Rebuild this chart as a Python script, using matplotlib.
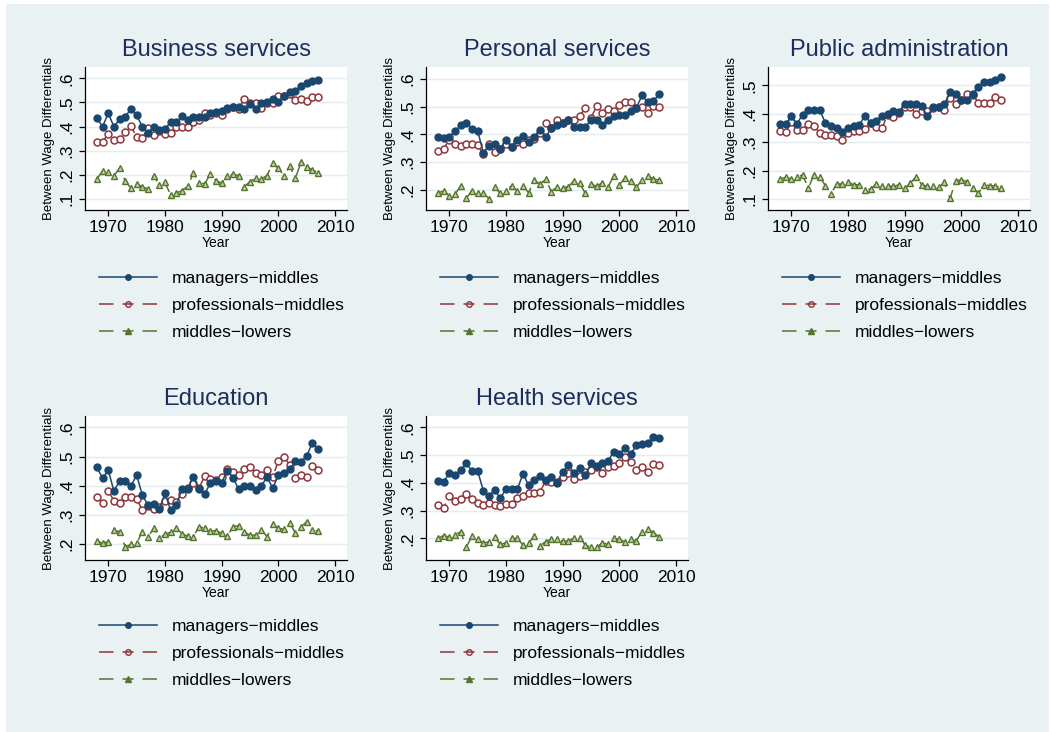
import matplotlib
matplotlib.use("Agg")
import matplotlib.pyplot as plt
from matplotlib.patches import Rectangle
from matplotlib.lines import Line2D

plt.rcParams["font.family"] = ["Liberation Sans", "DejaVu Sans"]

YEARS = list(range(1968, 2008))

# Business services
bus_mgr = [0.434, 0.400, 0.455, 0.400, 0.430, 0.441, 0.473, 0.447, 0.400, 0.375,
           0.397, 0.386, 0.390, 0.418, 0.418, 0.444, 0.427, 0.438, 0.438, 0.441,
           0.455, 0.459, 0.465, 0.478, 0.483, 0.480, 0.473, 0.494, 0.473, 0.499,
           0.503, 0.514, 0.503, 0.528, 0.545, 0.548, 0.570, 0.579, 0.590, 0.593]
bus_prof = [0.336, 0.338, 0.369, 0.344, 0.350, 0.376, 0.402, 0.357, 0.354, 0.393,
            0.365, 0.382, 0.369, 0.375, 0.400, 0.397, 0.400, 0.418, 0.427, 0.455,
            0.448, 0.455, 0.447, 0.473, 0.483, 0.473, 0.514, 0.499, 0.499, 0.478,
            0.499, 0.499, 0.527, 0.528, 0.534, 0.510, 0.513, 0.507, 0.524, 0.521]
bus_low = [0.183, 0.216, 0.212, 0.197, 0.227, 0.175, 0.144, 0.162, 0.151, 0.141,
           0.197, 0.158, 0.169, 0.116, 0.126, 0.133, 0.154, 0.206, 0.168, 0.162,
           0.204, 0.176, 0.165, 0.195, 0.202, 0.197, 0.151, 0.172, 0.186, 0.182,
           0.197, 0.248, 0.227, 0.197, 0.237, 0.186, 0.252, 0.234, 0.220, 0.209]

# Personal services
per_mgr = [0.391, 0.387, 0.391, 0.411, 0.433, 0.439, 0.420, 0.413, 0.334, 0.358,
           0.365, 0.349, 0.379, 0.353, 0.381, 0.393, 0.373, 0.389, 0.417, 0.391,
           0.421, 0.433, 0.439, 0.453, 0.427, 0.427, 0.427, 0.451, 0.453, 0.435,
           0.453, 0.465, 0.469, 0.469, 0.483, 0.496, 0.540, 0.516, 0.520, 0.544]
per_prof = [0.341, 0.349, 0.379, 0.367, 0.359, 0.365, 0.367, 0.361, 0.329, 0.364,
            0.337, 0.346, 0.367, 0.355, 0.371, 0.365, 0.379, 0.383, 0.403, 0.441,
            0.421, 0.453, 0.439, 0.451, 0.451, 0.465, 0.496, 0.460, 0.501, 0.477,
            0.491, 0.484, 0.506, 0.516, 0.516, 0.493, 0.499, 0.475, 0.503, 0.497]
per_low = [0.190, 0.196, 0.179, 0.184, 0.214, 0.170, 0.198, 0.190, 0.190, 0.168,
           0.210, 0.188, 0.196, 0.216, 0.196, 0.214, 0.190, 0.236, 0.221, 0.239,
           0.194, 0.212, 0.208, 0.212, 0.233, 0.224, 0.188, 0.220, 0.214, 0.226,
           0.210, 0.251, 0.218, 0.244, 0.233, 0.210, 0.236, 0.251, 0.239, 0.236]

# Public administration
pub_mgr = [0.364, 0.364, 0.391, 0.365, 0.397, 0.413, 0.413, 0.415, 0.368, 0.358,
           0.350, 0.335, 0.350, 0.356, 0.360, 0.394, 0.368, 0.376, 0.391, 0.401,
           0.409, 0.408, 0.433, 0.436, 0.433, 0.429, 0.391, 0.424, 0.424, 0.433,
           0.476, 0.471, 0.450, 0.450, 0.471, 0.495, 0.512, 0.512, 0.518, 0.529]
pub_prof = [0.338, 0.336, 0.370, 0.342, 0.344, 0.365, 0.358, 0.332, 0.327, 0.327,
            0.323, 0.306, 0.332, 0.338, 0.338, 0.347, 0.368, 0.354, 0.350, 0.397,
            0.389, 0.403, 0.423, 0.423, 0.401, 0.409, 0.409, 0.421, 0.424, 0.415,
            0.456, 0.433, 0.448, 0.471, 0.468, 0.439, 0.439, 0.439, 0.459, 0.450]
pub_low = [0.170, 0.176, 0.170, 0.176, 0.185, 0.138, 0.185, 0.179, 0.147, 0.118,
           0.153, 0.153, 0.159, 0.150, 0.150, 0.132, 0.135, 0.153, 0.146, 0.146,
           0.144, 0.150, 0.138, 0.155, 0.179, 0.150, 0.144, 0.144, 0.141, 0.158,
           0.102, 0.164, 0.167, 0.161, 0.138, 0.120, 0.150, 0.147, 0.146, 0.138]

# Education
edu_mgr = [0.463, 0.426, 0.454, 0.382, 0.417, 0.418, 0.399, 0.437, 0.369, 0.334,
           0.338, 0.320, 0.374, 0.317, 0.334, 0.389, 0.389, 0.431, 0.388, 0.372,
           0.409, 0.418, 0.411, 0.452, 0.428, 0.388, 0.399, 0.399, 0.386, 0.399,
           0.431, 0.391, 0.437, 0.445, 0.456, 0.485, 0.483, 0.502, 0.548, 0.525]
edu_prof = [0.363, 0.340, 0.382, 0.349, 0.340, 0.363, 0.361, 0.356, 0.317, 0.332,
            0.321, 0.329, 0.349, 0.352, 0.346, 0.372, 0.391, 0.411, 0.391, 0.434,
            0.422, 0.420, 0.431, 0.456, 0.448, 0.437, 0.458, 0.463, 0.445, 0.437,
            0.454, 0.431, 0.485, 0.500, 0.471, 0.426, 0.437, 0.431, 0.468, 0.454]
edu_low = [0.211, 0.203, 0.209, 0.247, 0.243, 0.190, 0.200, 0.203, 0.243, 0.224,
           0.255, 0.221, 0.234, 0.241, 0.257, 0.235, 0.228, 0.226, 0.260, 0.255,
           0.246, 0.246, 0.238, 0.228, 0.260, 0.264, 0.243, 0.230, 0.232, 0.249,
           0.226, 0.268, 0.255, 0.251, 0.272, 0.238, 0.260, 0.277, 0.247, 0.246]

# Health services
hea_mgr = [0.407, 0.404, 0.434, 0.428, 0.446, 0.470, 0.444, 0.444, 0.372, 0.354,
           0.374, 0.344, 0.378, 0.378, 0.377, 0.432, 0.392, 0.410, 0.425, 0.410,
           0.422, 0.401, 0.440, 0.464, 0.437, 0.452, 0.428, 0.470, 0.461, 0.473,
           0.479, 0.512, 0.503, 0.527, 0.504, 0.535, 0.540, 0.542, 0.566, 0.560]
hea_prof = [0.320, 0.308, 0.353, 0.336, 0.342, 0.359, 0.341, 0.326, 0.320, 0.329,
            0.320, 0.317, 0.324, 0.324, 0.344, 0.353, 0.362, 0.362, 0.367, 0.408,
            0.404, 0.404, 0.420, 0.434, 0.414, 0.425, 0.440, 0.446, 0.456, 0.434,
            0.456, 0.461, 0.473, 0.492, 0.476, 0.446, 0.456, 0.438, 0.467, 0.464]
hea_low = [0.200, 0.210, 0.204, 0.212, 0.224, 0.168, 0.208, 0.196, 0.182, 0.188,
           0.204, 0.178, 0.184, 0.200, 0.200, 0.176, 0.182, 0.210, 0.174, 0.188,
           0.198, 0.196, 0.190, 0.190, 0.202, 0.202, 0.176, 0.168, 0.168, 0.184,
           0.178, 0.200, 0.196, 0.188, 0.198, 0.192, 0.224, 0.234, 0.220, 0.206]

SERIES = ["managers\u2212middles", "professionals\u2212middles", "middles\u2212lowers"]
XTICKS = [1970, 1980, 1990, 2000, 2010]

W, H = 1051, 732
NAVY, MAROON, GREEN = "#1a476f", "#90353b", "#55752f"
BG = "#e9f1f3"
TITLE_C = "#1e2d5c"
DASH = (0, (7.8, 5.9))
KEY_DASH = (0, (9.5, 5.9, 7.2, 5.9, 9.8, 40))

# panel: title, data, y ticks, y limits, plot box in pixels (x, y-top, w, h), legend anchor
PANELS = [
    ("Business services", (bus_mgr, bus_prof, bus_low), [.1, .2, .3, .4, .5, .6],
     (0.054, 0.647), (85, 67, 262, 143), (99, 271)),
    ("Personal services", (per_mgr, per_prof, per_low), [.2, .3, .4, .5, .6],
     (0.128, 0.642), (426, 67, 262, 143), (440, 271)),
    ("Public administration", (pub_mgr, pub_prof, pub_low), [.1, .2, .3, .4, .5],
     (0.061, 0.565), (768, 67, 262, 143), (782, 271)),
    ("Education", (edu_mgr, edu_prof, edu_low), [.2, .3, .4, .5, .6],
     (0.146, 0.639), (85, 416, 262, 144), (99, 619)),
    ("Health services", (hea_mgr, hea_prof, hea_low), [.2, .3, .4, .5, .6],
     (0.122, 0.641), (426, 416, 262, 144), (440, 619)),
]

fig = plt.figure(figsize=(W / 100, H / 100), dpi=100)
fig.patch.set_facecolor("white")
fig.add_artist(Rectangle((6 / W, 0), 1043 / W, 1 - 4 / H, transform=fig.transFigure,
                         facecolor=BG, edgecolor="none", zorder=0))

# legend keys: solid / dashed line with a small marker in the middle
keys = [
    Line2D([], [], color=NAVY, lw=1.1, marker="o", ms=4, mfc=NAVY, mec=NAVY),
    Line2D([], [], color=MAROON, lw=1.1, ls=KEY_DASH, marker="o", ms=4,
           mfc="none", mec=MAROON, mew=1.0),
    Line2D([], [], color=GREEN, lw=1.1, ls=KEY_DASH, marker="^", ms=4,
           mfc=GREEN, mec=GREEN),
]

for title, (mgr, prof, low), yt, ylim, (px, py, pw, ph), (lx, ly) in PANELS:
    ax = fig.add_axes([px / W, 1 - (py + ph) / H, pw / W, ph / H])
    ax.set_facecolor("white")
    ax.plot(YEARS, mgr, color=NAVY, lw=1.1, marker="o", ms=5, mec=NAVY, mfc=NAVY,
            zorder=4)
    ax.plot(YEARS, prof, color=MAROON, lw=1.1, ls=DASH, marker="o", ms=5,
            mec=MAROON, mfc="white", mew=1.1, zorder=3)
    ax.plot(YEARS, low, color=GREEN, lw=1.1, ls=DASH, marker="^", ms=5,
            mec=GREEN, mfc="#bfd1a4", mew=1.0, zorder=3)

    ax.set_xlim(1965.9, 2012.1)
    ax.set_ylim(*ylim)
    ax.set_xticks(XTICKS)
    ax.set_yticks(yt)
    ax.set_yticklabels([("%.1f" % v)[1:] for v in yt])
    ax.grid(True, axis="y", color="#e4ecef", lw=1.0)
    ax.set_axisbelow(True)
    for s in ("top", "right"):
        ax.spines[s].set_visible(False)
    for s in ("left", "bottom"):
        ax.spines[s].set_linewidth(0.9)
    ax.tick_params(axis="both", direction="out", length=4, width=0.9, labelsize=12.5)
    ax.tick_params(axis="x", pad=3)
    ax.tick_params(axis="y", labelrotation=90, pad=4)
    for lab in ax.get_yticklabels():
        lab.set_va("center")

    ax.set_title(title, fontsize=17, color=TITLE_C, pad=8)
    ax.set_xlabel("Year", fontsize=10, va="center")
    ax.xaxis.set_label_coords(0.5, -33 / ph)
    ax.set_ylabel("Between Wage Differentials", fontsize=9.5, va="center")
    ax.yaxis.set_label_coords(-36 / pw, 0.5)

    ax.legend(keys, SERIES, loc="upper left", bbox_to_anchor=(lx / W, 1 - ly / H),
              bbox_transform=fig.transFigure, frameon=False, fontsize=12.5,
              handlelength=3.35, handletextpad=0.85, labelspacing=0.68,
              borderpad=0, borderaxespad=0)

fig.savefig("out.png", dpi=100)
